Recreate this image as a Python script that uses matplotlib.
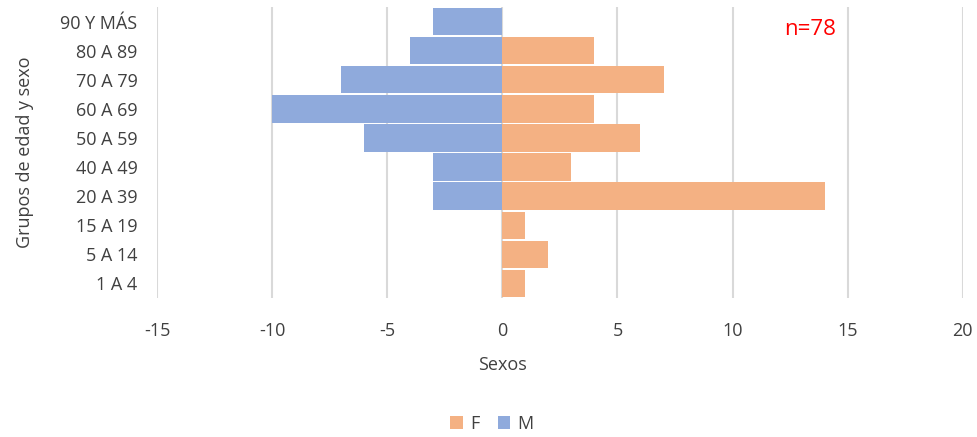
import matplotlib.pyplot as plt
import numpy as np

plt.rcParams['font.family'] = ['Open Sans', 'DejaVu Sans']

grupos = ['1 A 4', '5 A 14', '15 A 19', '20 A 39', '40 A 49',
          '50 A 59', '60 A 69', '70 A 79', '80 A 89', '90 Y MÁS']
femenino = [1, 2, 1, 14, 3, 6, 4, 7, 4, 0]
masculino = [0, 0, 0, -3, -3, -6, -10, -7, -4, -3]
ticks_x = [-15, -10, -5, 0, 5, 10, 15, 20]

col_f = '#F4B183'
col_m = '#8FAADC'
gris = '#404040'

fig = plt.figure(figsize=(9.78, 4.37), dpi=100)
ax = fig.add_axes([0.1605, 0.318, 0.824, 0.666])

y = np.arange(len(grupos))
ax.barh(y, femenino, height=0.94, color=col_f, label='F', zorder=3)
ax.barh(y, masculino, height=0.94, color=col_m, label='M', zorder=3)

ax.set_xlim(-15, 20)
ax.set_ylim(-0.5, len(grupos) - 0.5)
ax.set_xticks(ticks_x)
ax.set_xticklabels([str(t) for t in ticks_x])
ax.set_yticks(y)
ax.set_yticklabels(grupos)
ax.grid(axis='x', color='#D9D9D9', linewidth=1.5, zorder=0)
ax.tick_params(length=0, labelsize=13, colors=gris)
ax.tick_params(axis='x', pad=17)
ax.tick_params(axis='y', pad=14)
for s in ax.spines.values():
    s.set_visible(False)

# el título del eje X queda centrado sobre el cero
ax.set_xlabel('Sexos', fontsize=13, color=gris)
ax.xaxis.set_label_coords(15 / 35, -0.2)
ax.set_ylabel('Grupos de edad y sexo', fontsize=13, color=gris, labelpad=19)

ax.text(14.5, 8.72, 'n=78', color='#FF0000', fontsize=16, ha='right', va='center')

leg = fig.legend(loc='center', bbox_to_anchor=(0.503, 0.03), ncol=2, frameon=False,
                 fontsize=13, handlelength=0.7, handleheight=0.7, handletextpad=0.4,
                 columnspacing=1.0, borderpad=0.2)
for t in leg.get_texts():
    t.set_color(gris)

plt.savefig('out.png', dpi=100)
